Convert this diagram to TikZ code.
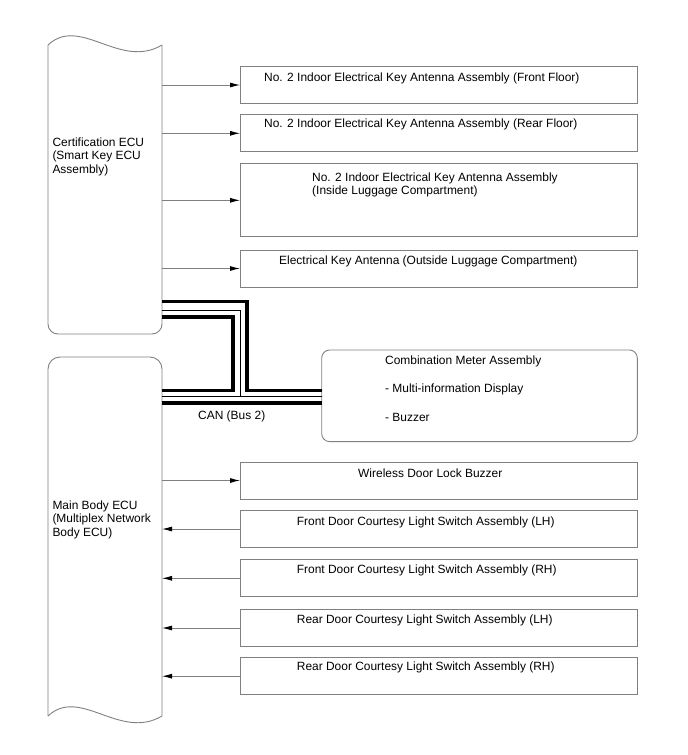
\documentclass[tikz,border=0pt]{standalone}
\usepackage{fontspec}
\setmainfont{Liberation Sans}
\usetikzlibrary{arrows.meta,positioning}
\definecolor{linegray}{gray}{0.5}
\tikzset{
  ecu/.style={draw=none, shape=rectangle, inner sep=0pt, outer sep=0pt, minimum width=114pt},
  outline/.style={draw=linegray, line width=0.9pt},
  box/.style={draw=linegray, line width=0.9pt, shape=rectangle, inner sep=0pt, outer sep=0pt, minimum width=397pt, minimum height=37pt},
  lbl/.style={inner sep=0pt, font=\fontsize{11.95}{13.6}\selectfont, align=left},
  sig/.style={draw=linegray, line width=0.9pt, -{Latex[black,length=10pt,width=5pt]}},
  canthick/.style={draw=black, line width=3.6pt},
  canthin/.style={draw=black, line width=1pt}
}

\begin{document}
\begin{tikzpicture}[x=1pt,y=-1pt]
\useasboundingbox (0,0) rectangle (688,755);

% ECU bodies
\node[ecu, minimum height=289pt] (cert) at (105,189.5) {};
\node[ecu, minimum height=359pt] (main) at (105,536.5) {};

\draw[outline] (cert.north west) .. controls (80,15) and (120,70) .. (cert.north east);
\draw[outline, rounded corners=10pt] (cert.north east) -- (cert.south east) -- (cert.south west) -- (cert.north west);
\draw[outline, rounded corners=12pt] (main.south west) -- (main.north west) -- (main.north east) -- (main.south east);
\draw[outline] (main.south west) .. controls (80,686) and (120,741) .. (main.south east);

\node[lbl, anchor=north west] (certname) at (52.3,137.3) {Certification ECU\\(Smart Key ECU\\Assembly)};
\node[lbl, anchor=north west] (mainname) at (52.3,500.3) {Main Body ECU\\(Multiplex Network\\Body ECU)};

% antenna boxes
\node[box] (frontfloor) at (438.5,85) {};
\node[box] (rearfloor) at (438.5,133.3) {};
\node[box, minimum height=73pt] (luggage) at (438.5,200.3) {};
\node[box] (outside) at (438.5,268.5) {};

\node[lbl, anchor=base west] (frontfloortxt) at (264,81) {No. 2 Indoor Electrical Key Antenna Assembly (Front Floor)};
\node[lbl, anchor=base west] (rearfloortxt) at (264,127) {No. 2 Indoor Electrical Key Antenna Assembly (Rear Floor)};
\node[lbl, anchor=north west] (luggagetxt) at (312,172.3) {No. 2 Indoor Electrical Key Antenna Assembly\\(Inside Luggage Compartment)};
\node[lbl, anchor=base west] (outsidetxt) at (279,264) {Electrical Key Antenna (Outside Luggage Compartment)};

\draw[sig] (frontfloor.west -| cert.east) -- (frontfloor.west);
\draw[sig] (rearfloor.west -| cert.east) -- (rearfloor.west);
\draw[sig] (luggage.west -| cert.east) -- (luggage.west);
\draw[sig] (outside.west -| cert.east) -- (outside.west);

% combination meter
\node[box, rounded corners=8pt, minimum width=315.6pt, minimum height=91.7pt] (meter) at (479.5,395.8) {};
\node[lbl, font=\fontsize{11.95}{28.7}\selectfont, anchor=north west] (metertxt) at (385,355.3) {Combination Meter Assembly\\- Multi-information Display\\- Buzzer};

% CAN lines
\coordinate (hiturn) at (247,301.5);
\coordinate (midturn) at (240,310);
\coordinate (loturn) at (233,317);
\draw[canthick] (cert.east |- hiturn) -- (hiturn) |- (meter.west |- 0,390.5);
\draw[canthick] (cert.east |- loturn) -- (loturn) |- (main.east |- 0,390.5);
\draw[canthin] (cert.east |- midturn) -- (midturn) -- (midturn |- 0,396);
\draw[canthin] (main.east |- 0,396) -- (meter.west |- 0,396);
\draw[canthick] (main.east |- 0,403) -- (meter.west |- 0,403);
\node[lbl, anchor=base west] (cantxt) at (198,419) {CAN (Bus 2)};

% body ECU boxes
\node[box] (buzzer) at (438.5,480.5) {};
\node[box] (frontlh) at (438.5,529) {};
\node[box] (frontrh) at (438.5,578.3) {};
\node[box] (rearlh) at (438.5,628) {};
\node[box] (rearrh) at (438.5,676.2) {};

\node[lbl, anchor=base west] (buzzertxt) at (358,477) {Wireless Door Lock Buzzer};
\node[lbl, anchor=base west] (frontlhtxt) at (296.7,525) {Front Door Courtesy Light Switch Assembly (LH)};
\node[lbl, anchor=base west] (frontrhtxt) at (296.7,573.5) {Front Door Courtesy Light Switch Assembly (RH)};
\node[lbl, anchor=base west] (rearlhtxt) at (296.7,623.5) {Rear Door Courtesy Light Switch Assembly (LH)};
\node[lbl, anchor=base west] (rearrhtxt) at (296.7,670.5) {Rear Door Courtesy Light Switch Assembly (RH)};

\draw[sig] (buzzer.west -| main.east) -- (buzzer.west);
\draw[sig] (frontlh.west) -- (frontlh.west -| main.east);
\draw[sig] (frontrh.west) -- (frontrh.west -| main.east);
\draw[sig] (rearlh.west) -- (rearlh.west -| main.east);
\draw[sig] (rearrh.west) -- (rearrh.west -| main.east);
\end{tikzpicture}
\end{document}
